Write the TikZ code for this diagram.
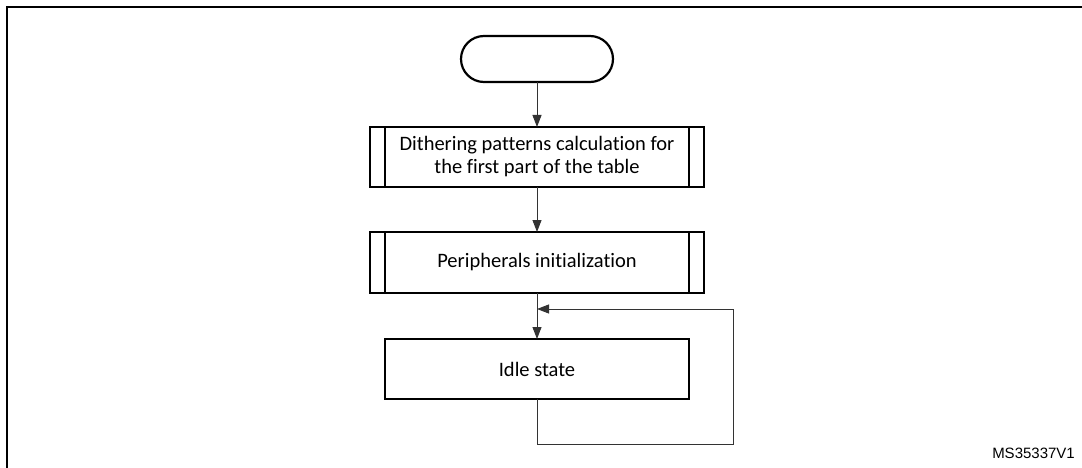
\documentclass[tikz,border=0pt]{standalone}
\usepackage{fontspec}
\setmainfont{Carlito}[Ligatures=NoCommon]
\newfontfamily\labelfont{Liberation Sans}
\usetikzlibrary{arrows.meta}
\begin{document}
\begin{tikzpicture}[x=1pt,y=-1pt,
  box/.style={draw=black,line width=2.2pt,outer sep=0pt,inner sep=0pt,align=center,
    font=\fontsize{20.5}{23}\selectfont},
  conn/.style={draw=black!80,line width=1pt,-{Triangle[length=12pt,width=9pt]}}]
\useasboundingbox (0,0) rectangle (1082,468);
\draw[line width=2.6pt] (1082,7) -- (7,7) -- (7,468);
\node[box,rounded corners=23pt,minimum width=152pt,minimum height=46pt] (start) at (537,59) {};
\node[box,minimum width=334pt,minimum height=60pt] (b1) at (537,157)
  {Dithering patterns calculation for\\the first part of the table};
\draw[line width=2.2pt] ([xshift=15pt]b1.north west) -- ([xshift=15pt]b1.south west);
\draw[line width=2.2pt] ([xshift=-15pt]b1.north east) -- ([xshift=-15pt]b1.south east);
\node[box,minimum width=334pt,minimum height=61pt] (b2) at (537,262.5)
  {Peripherals initialization};
\draw[line width=2.2pt] ([xshift=15pt]b2.north west) -- ([xshift=15pt]b2.south west);
\draw[line width=2.2pt] ([xshift=-15pt]b2.north east) -- ([xshift=-15pt]b2.south east);
\node[box,minimum width=304pt,minimum height=60pt] (idle) at (537,369) {Idle state};
\coordinate (lp) at (537,309);
\coordinate (c1) at (537,444);
\coordinate (c2) at (733,444);
\coordinate (c3) at (733,309);
\draw[conn] (start) -- (b1);
\draw[conn] (b1) -- (b2);
\draw[conn] (b2) -- (idle);
\draw[conn] (idle.south) -- (c1) -- (c2) -- (c3) -- (lp);
\node[font=\labelfont\fontsize{15}{18}\selectfont,anchor=east,inner sep=0pt] (ref) at (1075,453) {MS35337V1};
\end{tikzpicture}
\end{document}
